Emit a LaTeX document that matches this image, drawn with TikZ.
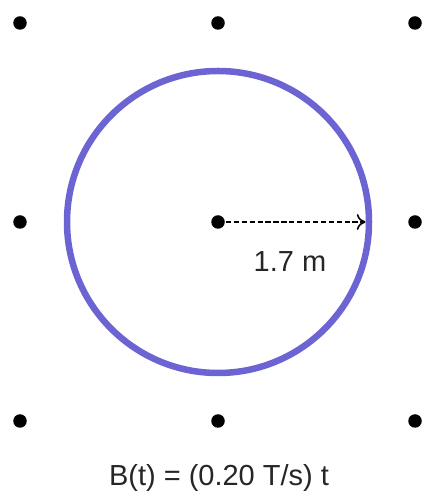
\documentclass[tikz,border=0pt]{standalone}
\usepackage{fontspec}
\setmainfont{Liberation Sans}
\usepackage{xcolor}
\definecolor{loopblue}{HTML}{6C64D2}
\usetikzlibrary{arrows.meta, positioning, calc}

\begin{document}
\begin{tikzpicture}[
  fielddot/.style={circle, fill=black, inner sep=0pt, minimum size=0.27cm},
  loopring/.style={draw=loopblue, line width=0.13cm},
  radius arrow/.style={-{To[length=5pt, width=9pt]}, dashed, dash pattern=on 3pt off 1.5pt, line width=0.9pt},
  label text/.style={font=\fontsize{16.5}{19}\selectfont, text=black!85}
]
\useasboundingbox (0,0) rectangle (8.48,10.08);
% Field dots (out of page)
\node[fielddot] (d1) at (0.40, 9.62) {};
\node[fielddot] (d2) at (4.36, 9.62) {};
\node[fielddot] (d3) at (8.30, 9.62) {};
\node[fielddot] (d4) at (0.40, 5.64) {};
\node[fielddot] (d5) at (4.36, 5.64) {};
\node[fielddot] (d6) at (8.30, 5.64) {};
\node[fielddot] (d7) at (0.40, 1.66) {};
\node[fielddot] (d8) at (4.36, 1.66) {};
\node[fielddot] (d9) at (8.30, 1.66) {};

% Conducting loop
\draw[loopring] (d5.center) circle (3.02cm);
\coordinate (rim) at ($(d5.center)+(2.95,0)$);

% Radius
\draw[radius arrow] (d5.center) -- (rim);
\node[label text] (rlabel) at (5.80, 4.84) {1.7 m};

% Field law
\node[label text] (law) at (4.38, 0.52) {B(t) = (0.20 T/s) t};
\end{tikzpicture}
\end{document}
